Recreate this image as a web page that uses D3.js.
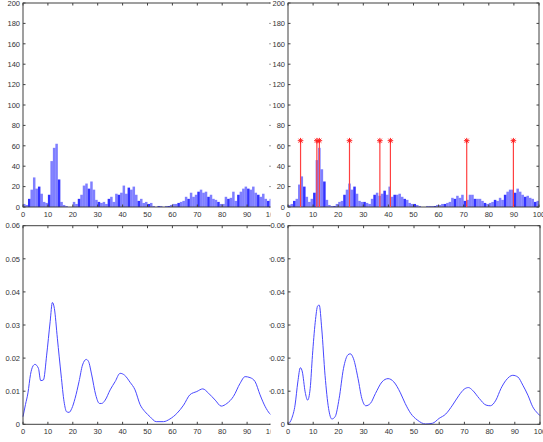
<!DOCTYPE html>
<html>
<head>
<meta charset="utf-8">
<script src="https://cdn.jsdelivr.net/npm/d3@7"></script>
<style>
  body { margin: 0; background: #fff; }
  svg { display: block; }
</style>
</head>
<body>
<div id="chart"></div>
<script>
// tick values / labels
var xTicks = [0, 10, 20, 30, 40, 50, 60, 70, 80, 90, 100];
var histYTicks = [0, 20, 40, 60, 80, 100, 120, 140, 160, 180, 200];
var densYTicks = [0, 0.01, 0.02, 0.03, 0.04, 0.05, 0.06];

// histogram counts, one per unit bin [i, i+1)
var histLeft = [3, 2, 8, 17, 29, 18, 20, 13, 5, 4,
  12, 45, 58, 62, 27, 5, 2, 1, 0, 0,
  5, 3, 8, 12, 21, 23, 18, 25, 17, 7,
  5, 4, 5, 3, 8, 10, 5, 13, 12, 14,
  21, 13, 19, 17, 20, 12, 6, 8, 4, 5,
  3, 4, 1, 0, 1, 1, 0, 1, 1, 2,
  3, 3, 4, 5, 6, 10, 8, 14, 10, 12,
  15, 17, 14, 15, 10, 12, 8, 7, 5, 3,
  3, 10, 8, 9, 15, 6, 12, 15, 18, 20,
  18, 17, 20, 14, 12, 10, 13, 8, 6, 8];

var histRight = [2, 3, 6, 8, 22, 30, 20, 10, 5, 8,
  14, 46, 58, 37, 25, 7, 2, 1, 1, 3,
  5, 6, 12, 17, 23, 17, 20, 13, 6, 5,
  5, 4, 3, 8, 12, 14, 11, 13, 16, 12,
  20, 10, 12, 12, 13, 10, 8, 7, 4, 3,
  3, 2, 1, 0, 0, 1, 1, 1, 1, 2,
  2, 3, 3, 4, 5, 9, 8, 11, 9, 12,
  6, 7, 12, 12, 8, 8, 8, 6, 4, 3,
  4, 5, 7, 6, 9, 7, 12, 15, 17, 17,
  14, 18, 15, 12, 10, 11, 9, 8, 5, 6];

// detected peaks on the right histogram
var stemX = [5, 11.5, 12.5, 24.5, 36.6, 40.8, 71.2, 89.8];
var stemHeight = 65;

// density estimates [x, y]
var densLeft = [[0, 0.0023], [1, 0.006], [2, 0.0095], [3, 0.0150], [4, 0.0176], [4.8, 0.0181],
  [6.2, 0.0169], [7.1, 0.0132], [8.2, 0.0134], [9.5, 0.0209], [10.9, 0.031], [11.8, 0.0368],
  [12.6, 0.035], [13.8, 0.026], [15.3, 0.0149], [16.5, 0.0068], [17.5, 0.0038], [18.5, 0.0036],
  [19.6, 0.0048], [20.9, 0.0078], [22.5, 0.0129], [23.9, 0.0179], [25.4, 0.0196], [26.3, 0.019],
  [27.6, 0.0149], [29.2, 0.0089], [30.7, 0.0063], [31.6, 0.0063], [33, 0.0073], [35, 0.0104],
  [37, 0.0129], [39, 0.0154], [40.7, 0.0149], [43, 0.0127], [45, 0.0104], [47, 0.0060],
  [49, 0.0038], [51, 0.0023], [53.5, 0.0008], [56.4, 0.0008], [59, 0.0016], [61.8, 0.0033],
  [64.5, 0.0058], [67, 0.0089], [69.8, 0.0099], [72.2, 0.0107], [74.5, 0.0094], [77.2, 0.0073],
  [79.6, 0.0055], [81.9, 0.0063], [84.5, 0.0084], [87.2, 0.0124], [89.2, 0.0144], [91.2, 0.0141],
  [93.2, 0.0129], [95.2, 0.0089], [97.3, 0.0053], [99, 0.0033], [100, 0.0026]];

var densRight = [[0, 0.0], [1.5, 0.0018], [2.8, 0.0058], [3.9, 0.0128], [4.9, 0.0171], [5.7, 0.0158],
  [6.8, 0.0098], [7.8, 0.0073], [8.8, 0.0108], [9.7, 0.0208], [10.8, 0.0308], [11.8, 0.0358],
  [12.4, 0.036], [13.4, 0.0288], [14.7, 0.0148], [16.1, 0.0048], [17.4, 0.0016], [18.7, 0.0023],
  [20.3, 0.0078], [22, 0.0168], [23.8, 0.021], [24.7, 0.0213], [26, 0.0198], [27.8, 0.0138],
  [29.3, 0.0078], [30.9, 0.0056], [32.7, 0.0063], [34.7, 0.0093], [37.3, 0.0128], [39.7, 0.0138],
  [42, 0.0128], [44.6, 0.0095], [46.5, 0.0063], [48.7, 0.0033], [51.3, 0.0013], [54.6, 0.0001],
  [57.3, 0.0003], [60, 0.0018], [62.6, 0.0031], [65.3, 0.0058], [67.9, 0.0088], [69.9, 0.0106],
  [71.6, 0.0111], [73.2, 0.0103], [75.9, 0.0078], [78.6, 0.0058], [80.3, 0.0056], [82.5, 0.0073],
  [84.5, 0.0108], [86.5, 0.0133], [89.2, 0.0148], [91.2, 0.0143], [93.2, 0.0118], [95.2, 0.0088],
  [97.1, 0.0053], [99.1, 0.0033], [100, 0.0026]];

var W = 543, H = 442;
var svg = d3.select('#chart').append('svg')
            .attr('width', W)
            .attr('height', H)
            .style('font-family', '"Liberation Sans", Arial, sans-serif');

// panel boxes (pixel extents)
var boxes = {
  tl: {x0: 23, x1: 272, y0: 3, y1: 207},
  tr: {x0: 288, x1: 539, y0: 3, y1: 207},
  bl: {x0: 23, x1: 272, y0: 225.7, y1: 424.3},
  br: {x0: 288, x1: 540, y0: 225.7, y1: 424.3}
};

function makeScales(b, yMax) {
  return {
    x: d3.scaleLinear().domain([0, 100]).range([b.x0, b.x1]),
    y: d3.scaleLinear().domain([0, yMax]).range([b.y1, b.y0])
  };
}

// matlab-like boxed axes, ticks pointing inward on all four sides
function drawFrame(g, b, s, yTicks, yFmt) {
  var tl = 2.5, col = '#404040';
  var ax = g.append('g').attr('class', 'frame');
  ax.append('rect')
    .attr('x', b.x0).attr('y', b.y0)
    .attr('width', b.x1 - b.x0).attr('height', b.y1 - b.y0)
    .attr('fill', 'none').attr('stroke', col).attr('stroke-width', 1);

  xTicks.forEach(function(t) {
    var x = s.x(t);
    ax.append('line').attr('x1', x).attr('x2', x).attr('y1', b.y1).attr('y2', b.y1 - tl).attr('stroke', col);
    ax.append('line').attr('x1', x).attr('x2', x).attr('y1', b.y0).attr('y2', b.y0 + tl).attr('stroke', col);
    ax.append('text').attr('x', x).attr('y', b.y1 + 9.5)
      .attr('text-anchor', 'middle').attr('font-size', 7.5).attr('fill', '#333')
      .text(t);
  });
  yTicks.forEach(function(t) {
    var y = s.y(t);
    ax.append('line').attr('x1', b.x0).attr('x2', b.x0 + tl).attr('y1', y).attr('y2', y).attr('stroke', col);
    ax.append('line').attr('x1', b.x1).attr('x2', b.x1 - tl).attr('y1', y).attr('y2', y).attr('stroke', col);
    ax.append('text').attr('x', b.x0 - 3).attr('y', y + 2.7)
      .attr('text-anchor', 'end').attr('font-size', 7.5).attr('fill', '#333')
      .text(yFmt(t));
  });
}

function drawHist(b, counts) {
  var s = makeScales(b, 200);
  var g = svg.append('g');
  g.append('rect').attr('x', b.x0).attr('y', b.y0)
    .attr('width', b.x1 - b.x0).attr('height', b.y1 - b.y0).attr('fill', '#fff');
  g.append('g').selectAll('rect').data(counts)
    .enter().append('rect')
    .attr('x', function(d, i) { return s.x(i); })
    .attr('width', function(d, i) { return s.x(i + 1) - s.x(i); })
    .attr('y', function(d) { return s.y(d); })
    .attr('height', function(d) { return s.y(0) - s.y(d); })
    .attr('fill', '#0000ff')
    .attr('fill-opacity', function(d, i) { return i % 4 === 2 ? 0.8 : 0.5; });
  drawFrame(g, b, s, histYTicks, function(t) { return t; });
  return {g: g, s: s};
}

function drawDensity(b, pts) {
  var s = makeScales(b, 0.06);
  var g = svg.append('g');
  g.append('rect').attr('x', b.x0).attr('y', b.y0)
    .attr('width', b.x1 - b.x0).attr('height', b.y1 - b.y0).attr('fill', '#fff');
  var line = d3.line()
    .x(function(d) { return s.x(d[0]); })
    .y(function(d) { return s.y(d[1]); })
    .curve(d3.curveMonotoneX);
  g.append('path').datum(pts)
    .attr('d', line)
    .attr('fill', 'none')
    .attr('stroke', '#4848ff')
    .attr('stroke-width', 1);
  drawFrame(g, b, s, densYTicks, function(t) { return t === 0 ? '0' : t.toFixed(2); });
  return {g: g, s: s};
}

// left column
drawHist(boxes.tl, histLeft);
drawDensity(boxes.bl, densLeft);

// right column sits over the left one, hiding its right edge
svg.append('rect').attr('x', 270.5).attr('y', 0).attr('width', 18).attr('height', H).attr('fill', '#fff');

var tr = drawHist(boxes.tr, histRight);
drawDensity(boxes.br, densRight);

// red stems with star markers
var stems = tr.g.append('g');
stems.selectAll('line').data(stemX)
  .enter().append('line')
  .attr('x1', function(d) { return tr.s.x(d); })
  .attr('x2', function(d) { return tr.s.x(d); })
  .attr('y1', tr.s.y(0))
  .attr('y2', tr.s.y(stemHeight))
  .attr('stroke', '#ff4040')
  .attr('stroke-width', 1.2);
[d3.symbolPlus, d3.symbolTimes].forEach(function(sym) {
  stems.append('g').selectAll('path').data(stemX)
    .enter().append('path')
    .attr('transform', function(d) { return 'translate(' + tr.s.x(d) + ',' + tr.s.y(stemHeight) + ')'; })
    .attr('d', d3.symbol().type(sym).size(12))
    .attr('fill', 'none')
    .attr('stroke', '#ff2020')
    .attr('stroke-width', 1);
});
</script>
</body>
</html>
